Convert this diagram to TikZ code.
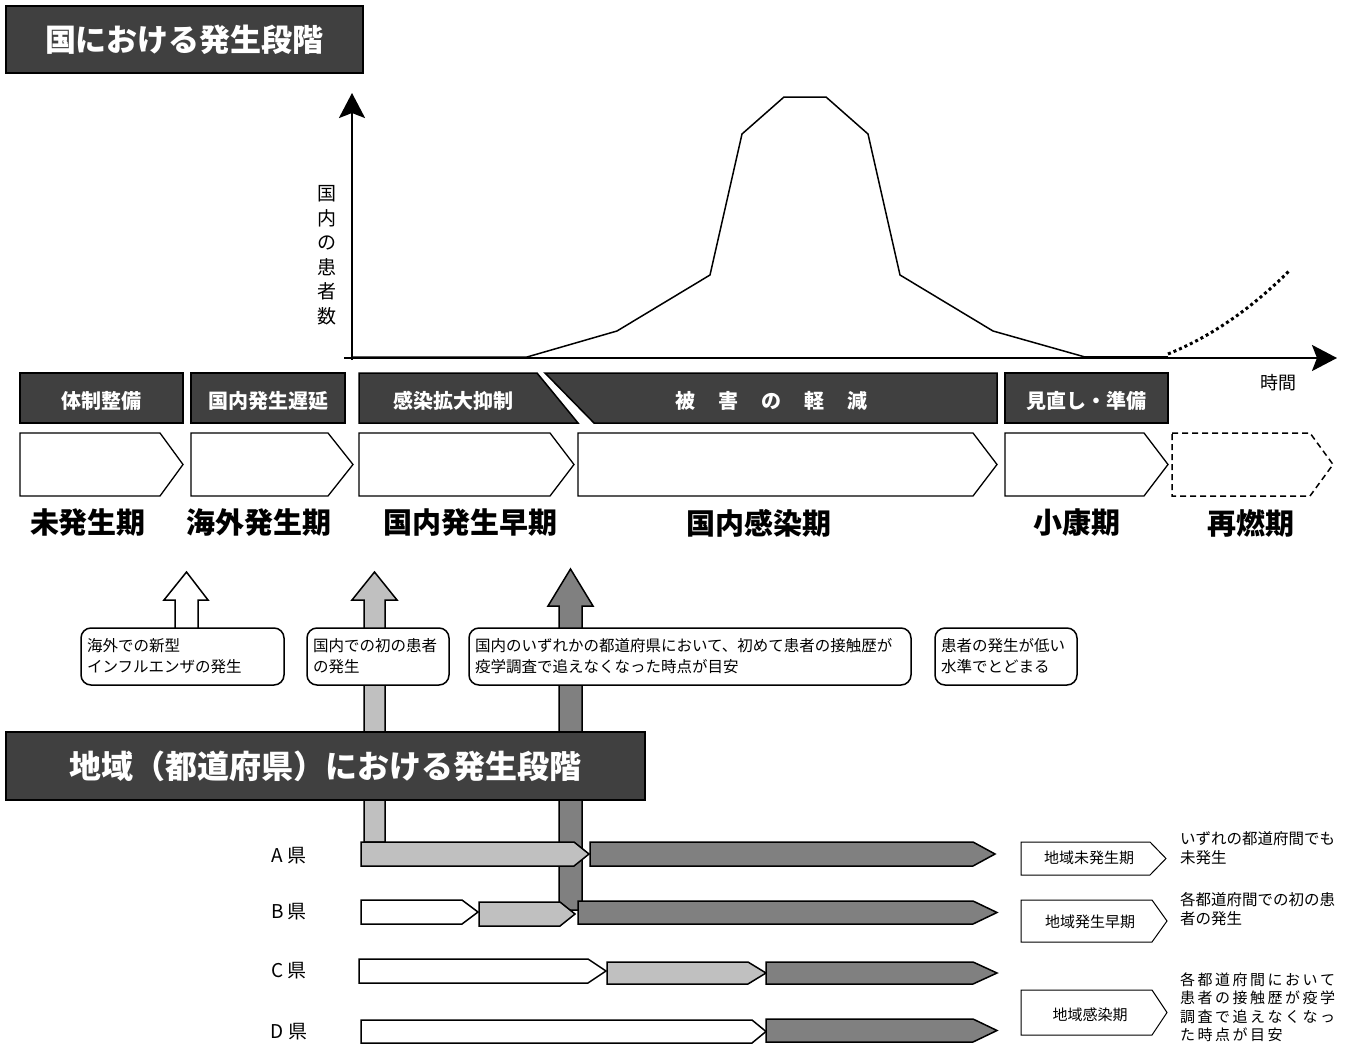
\documentclass[tikz,border=0pt]{standalone}
\usepackage{fontspec}
\setmainfont{Noto Sans CJK JP}
\usetikzlibrary{arrows.meta}
\definecolor{hdr}{HTML}{404040}
\definecolor{lgray}{HTML}{C0C0C0}
\definecolor{dgray}{HTML}{808080}
\newcommand\fs[1]{\fontsize{#1}{#1}\selectfont}
\newcommand\penta[6]{\draw[#6] (#1,#4) -- (#2,#4) -- (#3,{(#4+#5)/2}) -- (#2,#5) -- (#1,#5) -- cycle;}
\newcommand\spcsep{0pt}
\newcommand\spc[2]{\renewcommand\spcsep{#1}\spcloop#2\relax}
\def\spcloop#1{\ifx\relax#1\else#1\hspace{\spcsep}\expandafter\spcloop\fi}
\begin{document}
\begin{tikzpicture}[x=1pt,y=-1pt,line join=miter,
  titlebox/.style={draw=black,line width=2pt,fill=hdr,text=white,inner sep=0pt},
  hdrshape/.style={draw=black,line width=1.5pt,fill=hdr},
  hdrtext/.style={text=white,font=\fs{20}\bfseries,inner sep=0pt},
  chev/.style={draw=black,line width=1.3pt,fill=white},
  chevdash/.style={draw=black,line width=1.5pt,dash pattern=on 6pt off 4pt},
  phase/.style={font=\fs{29}\bfseries,inner sep=0pt},
  callout/.style={draw=black,line width=1.5pt,rounded corners=10pt,fill=white,align=left,
     inner xsep=6pt,inner ysep=0pt,minimum height=57pt,font=\fontsize{15.5}{21}\selectfont},
  barw/.style={draw=black,line width=1.5pt,fill=white},
  barl/.style={draw=black,line width=1.5pt,fill=lgray},
  bard/.style={draw=black,line width=1.5pt,fill=dgray},
  legbox/.style={draw=black,line width=1pt,fill=white},
  legtext/.style={font=\fs{15},inner sep=0pt},
  righttext/.style={anchor=west,align=left,inner sep=0pt,font=\fontsize{15.5}{18.5}\selectfont},
  pref/.style={font=\fs{19},inner sep=0pt},
  axis/.style={line width=2.5pt,-{Stealth[length=25pt,width=26pt,inset=5pt]}}]
\useasboundingbox (0,0) rectangle (1350,1044);
\fill[white] (0,0) rectangle (1350,1044);

% title 1
\node[titlebox,minimum width=357pt,minimum height=67pt,font=\fs{31}\bfseries] (t1) at (184.5,39.5) {国における発生段階};

% axes and curve
\coordinate (yb) at (352,360);
\coordinate (yt) at (352,93);
\coordinate (xl) at (344,358);
\coordinate (xr) at (1337,358);
\draw[axis] (yb) -- (yt);
\draw[axis] (xl) -- (xr);
\draw[line width=1.5pt] (352,357) -- (527,357) -- (617,331) -- (710,275) -- (742,134) -- (784,97) -- (826,97) -- (868,134) -- (900,275) -- (993,331) -- (1085,357);
\draw[line width=3pt] (1085,357) -- (1168,357);
\draw[line width=3pt,dash pattern=on 3pt off 3pt] (1168,354) .. controls (1215,335) and (1255,305) .. (1289,271);
\node[font=\fontsize{19}{24.5}\selectfont,align=center,inner sep=0pt] (ylab) at (327,255) {国\\内\\の\\患\\者\\数};
\node[font=\fs{18},inner sep=0pt] (tlab) at (1278,383) {時間};

% header row
\draw[hdrshape] (20,373) rectangle (183,423);
\draw[hdrshape] (191,373) rectangle (345,423);
\draw[hdrshape] (359,373) -- (537,373) -- (578,423) -- (359,423) -- cycle;
\draw[hdrshape] (545,373) -- (997,373) -- (997,423) -- (594,423) -- cycle;
\draw[hdrshape] (1005,373) rectangle (1168,423);
\node[hdrtext] (h1) at (101.5,401) {体制整備};
\node[hdrtext] (h2) at (268,401) {国内発生遅延};
\node[hdrtext] (h3) at (453,401) {感染拡大抑制};
\node[hdrtext] (h4) at (771,401) {被\hspace{23pt}害\hspace{23pt}の\hspace{23pt}軽\hspace{23pt}減};
\node[hdrtext] (h5) at (1086.5,401) {見直し・準備};

% chevrons
\penta{20}{160}{183}{433}{496}{chev}
\penta{191}{328}{353}{433}{496}{chev}
\penta{359}{550}{574}{433}{496}{chev}
\penta{578}{973}{997}{433}{496}{chev}
\penta{1005}{1144}{1168}{433}{496}{chev}
\penta{1172}{1310}{1333}{433}{496}{chevdash}
\node[phase] (p1) at (88,523) {未発生期};
\node[phase] (p2) at (259,523) {海外発生期};
\node[phase] (p3) at (470,523) {国内発生早期};
\node[phase] (p4) at (759,523) {国内感染期};
\node[phase] (p5) at (1077,523) {小康期};
\node[phase] (p6) at (1251,523) {再燃期};

% block up-arrows
\draw[line width=1.5pt,fill=white] (175,630) -- (175,600) -- (164,600) -- (186.5,572) -- (208,600) -- (198,600) -- (198,630) -- cycle;
\draw[line width=1.5pt,fill=lgray] (364,842) -- (364,600) -- (352,600) -- (374.5,572) -- (397,600) -- (385,600) -- (385,842) -- cycle;
\draw[line width=1.5pt,fill=dgray] (559,910) -- (559,606) -- (548,606) -- (570.5,569) -- (593,606) -- (582,606) -- (582,910) -- cycle;

% callouts
\node[callout,minimum width=203pt,text width=191pt] (b1) at (182.5,656.5) {海外での新型\\インフルエンザの発生};
\node[callout,minimum width=142pt,text width=130pt] (b2) at (378,656.5) {国内での初の患者\\の発生};
\node[callout,minimum width=442pt,text width=430pt] (b3) at (690,656.5) {国内のいずれかの都道府県において、初めて患者の接触歴が\\疫学調査で追えなくなった時点が目安};
\node[callout,minimum width=142pt,text width=130pt] (b4) at (1006,656.5) {患者の発生が低い\\水準でとどまる};

% title 2
\node[titlebox,minimum width=639pt,minimum height=68pt,font=\fs{32}\bfseries] (t2) at (325.5,766) {地域（都道府県）における発生段階};

% prefecture rows
\node[pref] (pa) at (289,856) {A\hspace{4pt}県};
\node[pref] (pb) at (289,912) {B\hspace{4pt}県};
\node[pref] (pc) at (289,971) {C\hspace{4pt}県};
\node[pref] (pd) at (289,1032) {D\hspace{4pt}県};
\penta{361}{574}{589}{842}{866}{barl}
\penta{590}{973}{995}{842}{866}{bard}
\penta{361}{462}{478}{900}{924}{barw}
\penta{479}{560}{575}{902}{926}{barl}
\penta{578}{973}{997}{901}{924}{bard}
\penta{359}{588}{606}{959}{983}{barw}
\penta{607}{748}{766}{962}{984}{barl}
\penta{766}{973}{997}{962}{984}{bard}
\penta{361}{752}{766}{1020}{1043}{barw}
\penta{766}{973}{997}{1019}{1042}{bard}

% legend
\penta{1021}{1150}{1166}{842}{875}{legbox}
\penta{1021}{1152}{1167}{900}{942}{legbox}
\penta{1021}{1152}{1167}{990}{1035}{legbox}
\node[legtext] (l1) at (1089,858) {地域未発生期};
\node[legtext] (l2) at (1090,922) {地域発生早期};
\node[legtext] (l3) at (1090,1015) {地域感染期};
\node[righttext] (r1) at (1180,848) {いずれの都道府間でも\\未発生};
\node[righttext] (r2) at (1180,909) {各都道府間での初の患\\者の発生};
\node[righttext,font=\fontsize{15}{18.5}\selectfont] (r3) at (1180,1007) {\spc{2.5pt}{各都道府間において}\\\spc{2.5pt}{患者の接触歴が疫学}\\\spc{2.5pt}{調査で追えなくなっ}\\\spc{2.5pt}{た時点が目安}};
\end{tikzpicture}
\end{document}
